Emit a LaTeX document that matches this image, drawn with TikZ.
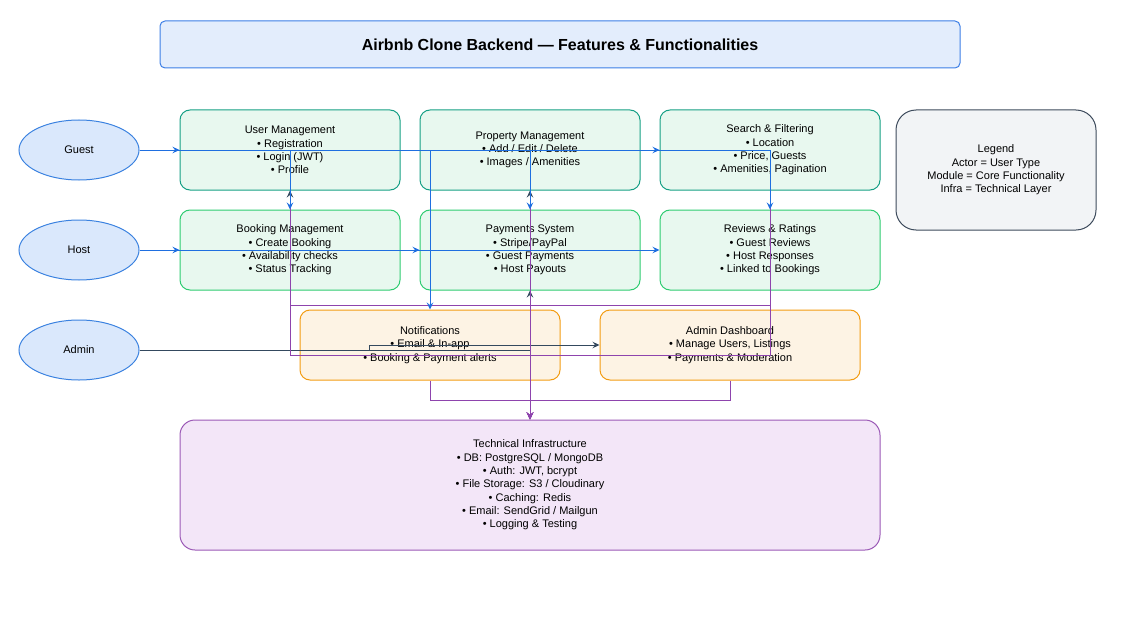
\documentclass[tikz,border=0pt]{standalone}
\usepackage{xcolor}
\usepackage{fontspec}
\setmainfont{Liberation Sans}
\usetikzlibrary{shapes,arrows,positioning,calc,arrows.meta}

\definecolor{titlefill}{HTML}{E3EDFC}
\definecolor{titleline}{HTML}{3D7FE6}
\definecolor{actorfill}{HTML}{DAE8FC}
\definecolor{actorline}{HTML}{3B82E0}
\definecolor{modfill}{HTML}{E8F8EF}
\definecolor{modlineA}{HTML}{16A085}
\definecolor{modlineB}{HTML}{2ECC71}
\definecolor{notefill}{HTML}{FDF3E4}
\definecolor{noteline}{HTML}{F39C12}
\definecolor{infrafill}{HTML}{F3E6F8}
\definecolor{infraline}{HTML}{9B59B6}
\definecolor{legfill}{HTML}{F2F4F6}
\definecolor{legline}{HTML}{3D4B5C}
\definecolor{userblue}{HTML}{1F6FE0}
\definecolor{admindark}{HTML}{34495E}
\definecolor{infrapurple}{HTML}{8E44AD}

\begin{document}
\begin{tikzpicture}[x=1pt,y=-1pt,
    txt/.style={font=\fontsize{11}{13.3}\selectfont, align=center, line width=1pt},
    actor/.style={txt, ellipse, draw=actorline, fill=actorfill, minimum width=120pt, minimum height=60pt},
    module/.style={txt, rectangle, rounded corners=10pt, draw=modlineA, fill=modfill, minimum width=220pt, minimum height=80pt},
    modlow/.style={module, draw=modlineB},
    extra/.style={txt, rectangle, rounded corners=10pt, draw=noteline, fill=notefill, minimum width=260pt, minimum height=70pt},
    tip/.style={-{Stealth[length=7pt,width=6.5pt,inset=2.5pt]}},
    guestln/.style={tip, draw=userblue, line width=1pt},
    adminln/.style={tip, draw=admindark, line width=1pt},
    infraln/.style={tip, draw=infrapurple, line width=1pt}]
    \useasboundingbox (0,0) rectangle (1148,623);

    \node[rectangle, rounded corners=5pt, draw=titleline, fill=titlefill, line width=1pt, minimum width=800pt, minimum height=47pt,
          font=\fontsize{16}{19}\selectfont\bfseries] (title) at (560,44.5) {Airbnb Clone Backend — Features \& Functionalities};

    \node[actor] (guest) at (79,150) {Guest};
    \node[actor] (host) at (79,250) {Host};
    \node[actor] (admin) at (79,350) {Admin};

    \node[module] (user) at (290,150) {User Management\\• Registration\\• Login (JWT)\\• Profile};
    \node[module] (prop) at (530,150) {Property Management\\• Add / Edit / Delete\\• Images / Amenities};
    \node[module] (search) at (770,150) {Search \& Filtering\\• Location\\• Price, Guests\\• Amenities, Pagination};
    \node[modlow] (booking) at (290,250) {Booking Management\\• Create Booking\\• Availability checks\\• Status Tracking};
    \node[modlow] (pay) at (530,250) {Payments System\\• Stripe/PayPal\\• Guest Payments\\• Host Payouts};
    \node[modlow] (reviews) at (770,250) {Reviews \& Ratings\\• Guest Reviews\\• Host Responses\\• Linked to Bookings};
    \node[extra] (notif) at (430,345) {Notifications\\• Email \& In-app\\• Booking \& Payment alerts};
    \node[extra] (dash) at (730,345) {Admin Dashboard\\• Manage Users, Listings\\• Payments \& Moderation};
    \node[txt, rectangle, rounded corners=15pt, draw=infraline, fill=infrafill, minimum width=700pt, minimum height=130pt] (infra) at (530,485)
        {Technical Infrastructure\\• DB: PostgreSQL / MongoDB\\• Auth: JWT, bcrypt\\• File Storage: S3 / Cloudinary\\• Caching: Redis\\• Email: SendGrid / Mailgun\\• Logging \& Testing};
    \node[txt, rectangle, rounded corners=20pt, draw=legline, fill=legfill, minimum width=200pt, minimum height=120pt] (legend) at (996,170)
        {Legend\\Actor = User Type\\Module = Core Functionality\\Infra = Technical Layer};

    \coordinate (abend) at (369,350);
    \coordinate (busA) at (530,305);
    \coordinate (busB) at (530,355);
    \coordinate (busC) at (530,400);

    % admin
    \draw[adminln] (admin.east) -| (user.south);
    \draw[adminln] (admin.east) -| (prop.south);
    \draw[adminln] (admin.east) -| (pay.south);
    \draw[adminln] (admin.east) -- (abend) |- (dash.west);

    % everything goes down to the infrastructure
    \draw[infraln] (user.south) |- (busB) -- (infra.north);
    \draw[infraln] (search.south) |- (busB) -- (infra.north);
    \draw[infraln] (booking.south) |- (busA) -- (infra.north);
    \draw[infraln] (reviews.south) |- (busA) -- (infra.north);
    \draw[infraln] (prop.south) -- (infra.north);
    \draw[infraln] (pay.south) -- (infra.north);
    \draw[infraln] (notif.south) |- (busC) -- (infra.north);
    \draw[infraln] (dash.south) |- (busC) -- (infra.north);

    % guest and host
    \draw[guestln] (guest.east) -- (user.west);
    \draw[guestln] (guest.east) -| (booking.north);
    \draw[guestln] (guest.east) -| (notif.north);
    \draw[guestln] (guest.east) -| (pay.north);
    \draw[guestln] (guest.east) -- (search.west);
    \draw[guestln] (guest.east) -| (reviews.north);
    \draw[guestln] (host.east) -- (booking.west);
    \draw[guestln] (host.east) -- (pay.west);
    \draw[guestln] (host.east) -- (reviews.west);
\end{tikzpicture}
\end{document}
